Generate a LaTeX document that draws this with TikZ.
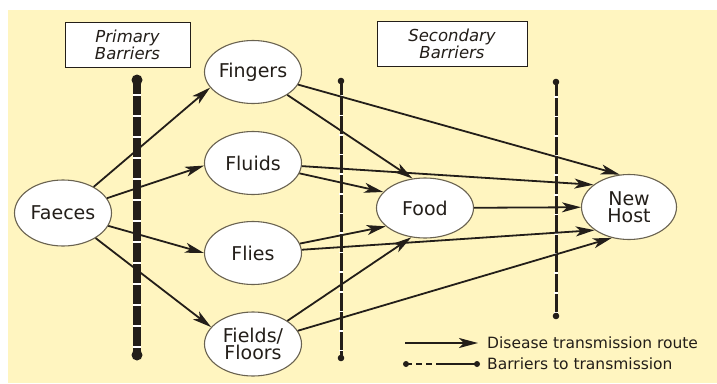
\documentclass[tikz,border=0pt]{standalone}
\usepackage{fontspec}
\setmainfont{DejaVu Sans}
\usetikzlibrary{arrows.meta,shapes.geometric}
\definecolor{bgy}{RGB}{255,245,192}
\definecolor{ink}{RGB}{35,30,25}
\definecolor{rim}{RGB}{105,98,80}
\begin{document}
\begin{tikzpicture}[x=1pt,y=-1pt,
  place/.style={ellipse, draw=rim, line width=1.1pt, fill=white, minimum width=97pt, minimum height=63pt, inner sep=0pt, font=\fontsize{19}{17.5}\selectfont, text=ink, align=center},
  route/.style={draw=ink, line width=1.8pt, -{Stealth[length=19pt,width=10pt,inset=5pt]}},
  labelbox/.style={draw=ink, line width=1pt, fill=white, minimum height=45pt, inner sep=0pt, align=center, font=\fontsize{16.5}{17.5}\selectfont\itshape, text=ink},
  bigbar/.style={line width=8pt, draw=ink},
  bigbargap/.style={line width=8.2pt, draw=white, dash pattern=on 2pt off 19pt, dash phase=-14pt},
  smallbar/.style={line width=3pt, draw=ink},
  smallbargap/.style={line width=3.2pt, draw=white, dash pattern=on 1.6pt off 18pt, dash phase=-14pt},
  legtext/.style={anchor=west, font=\fontsize{15.5}{16}\selectfont, text=ink, inner sep=0pt}
]
\useasboundingbox (0,0) rectangle (717,383);
\fill[bgy] (8,10) rectangle (717,383);

% label boxes
\node[labelbox, minimum width=125pt] (pbox) at (127.5,45) {Primary\\Barriers};
\node[labelbox, minimum width=150pt] (sbox) at (452,44) {Secondary\\Barriers};

% barriers
\coordinate (pbt) at (137,80);
\coordinate (pbb) at (137,355);
\coordinate (s1t) at (341,81);
\coordinate (s1b) at (341,358);
\coordinate (s2t) at (556,82);
\coordinate (s2b) at (556,316);
\draw[bigbar] (pbt) -- (pbb);
\draw[bigbargap] (pbt) -- (pbb);
\fill[ink] (pbt) circle (5.5pt) (pbb) circle (5.5pt);
\draw[smallbar] (s1t) -- (s1b);
\draw[smallbargap] (s1t) -- (s1b);
\fill[ink] (s1t) circle (3.3pt) (s1b) circle (3.3pt);
\draw[smallbar] (s2t) -- (s2b);
\draw[smallbargap] (s2t) -- (s2b);
\fill[ink] (s2t) circle (3.3pt) (s2b) circle (3.3pt);

% nodes
\node[place, minimum height=66pt] (faeces) at (63,213) {Faeces};
\node[place] (fingers) at (253,72) {Fingers};
\node[place] (fluids) at (253,163) {Fluids};
\node[place] (flies) at (253,253) {Flies};
\node[place, minimum height=64pt] (fields) at (253,344) {Fields/\\Floors};
\node[place, minimum height=60pt] (food) at (425,208) {Food};
\node[place, minimum width=95pt, minimum height=65pt] (host) at (629,207) {New\\Host};

% routes
\draw[route] (faeces) -- (fingers.200);
\draw[route] (faeces) -- (fluids.183);
\draw[route] (faeces) -- (flies.180);
\draw[route] (faeces) -- (fields.158);
\draw[route] (fingers) -- (food.113);
\draw[route] (fingers) -- (host.106);
\draw[route] (fluids) -- (food.159);
\draw[route] (fluids) -- (host.148);
\draw[route] (flies) -- (food.205);
\draw[route] (flies) -- (host.214);
\draw[route] (fields) -- (food.245);
\draw[route] (fields) -- (host.241);
\draw[route] (food) -- (host);

% legend
\coordinate (la1) at (405,343);
\coordinate (la2) at (478,343);
\draw[route] (la1) -- (la2);
\node[legtext] (lt1) at (487,343) {Disease transmission route};
\coordinate (lb1) at (406,364);
\coordinate (lbm) at (440,364);
\coordinate (lb2) at (477,364);
\draw[ink, line width=2.6pt, dash pattern=on 6pt off 4pt] (lb1) -- (lbm);
\draw[ink, line width=2.6pt] (lbm) -- (lb2);
\fill[ink] (lb1) circle (3pt) (lb2) circle (3pt);
\node[legtext] (lt2) at (487,364) {Barriers to transmission};
\end{tikzpicture}
\end{document}
